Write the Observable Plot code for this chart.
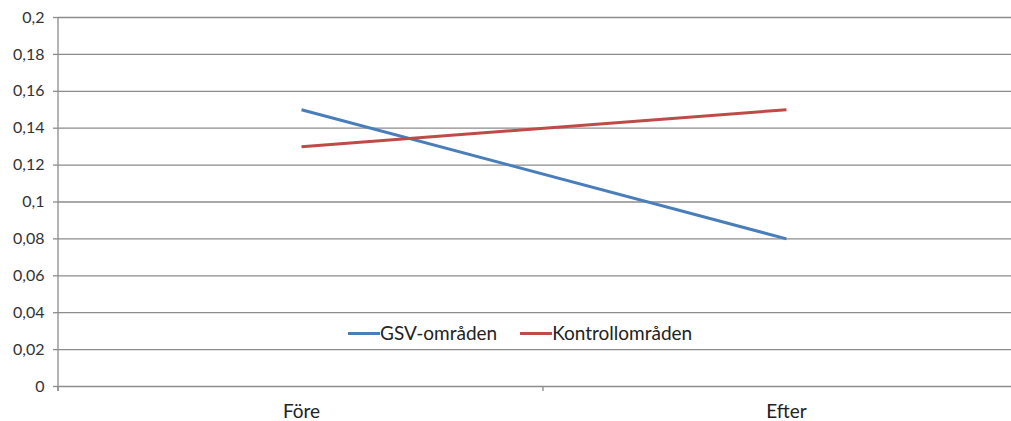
<!DOCTYPE html>
<html>
<head>
<meta charset="utf-8">
<script src="https://cdn.jsdelivr.net/npm/d3@7"></script>
<script src="https://cdn.jsdelivr.net/npm/@observablehq/plot@0.6"></script>
<style>
  html, body { margin: 0; padding: 0; background: #fff; overflow: hidden; }
  #wrap { position: relative; width: 1011px; height: 421px; overflow: hidden; font-family: Lato, "Open Sans", sans-serif; }
  #legend { position: absolute; top: 321px; left: 348px; display: flex; align-items: center; font-size: 19px; line-height: 24px; color: #222; white-space: nowrap; }
  #legend .sw { display: inline-block; width: 32px; height: 3px; }
  #legend .item { display: flex; align-items: center; margin-right: 23px; }
</style>
</head>
<body>
<div id="wrap"><div id="legend"></div></div>
<script>
const categories = ["Före", "Efter"];
const seriesNames = ["GSV-områden", "Kontrollområden"];
const gsvValues = [0.15, 0.08];
const kontrollValues = [0.13, 0.15];
const yTicks = [0, 0.02, 0.04, 0.06, 0.08, 0.1, 0.12, 0.14, 0.16, 0.18, 0.2];
const colors = ["#4a7ebb", "#be4b48"];

const data = [];
categories.forEach((c, i) => {
  data.push({cat: c, series: seriesNames[0], value: gsvValues[i]});
  data.push({cat: c, series: seriesNames[1], value: kontrollValues[i]});
});

const W = 1028, H = 421, ML = 58, MR = 0, MT = 17, MB = 35;
const axisColor = "#8c8c8c";

function frameMarks(index, scales, values, dims) {
  const g = d3.create("svg:g");
  const left = dims.marginLeft, right = dims.width - dims.marginRight;
  const bottom = dims.height - dims.marginBottom, top = dims.marginTop;
  g.append("line").attr("x1", left).attr("x2", left).attr("y1", top).attr("y2", bottom + 5)
    .attr("stroke", axisColor).attr("stroke-width", 1.3);
  const n = categories.length;
  const step = (right - left) / n;
  for (let i = 0; i <= n; i++) {
    const x = left + i * step;
    g.append("line").attr("x1", x).attr("x2", x).attr("y1", bottom).attr("y2", bottom + 5)
      .attr("stroke", axisColor).attr("stroke-width", 1.3);
  }
  return g.node();
}

const chart = Plot.plot({
  width: W, height: H,
  marginLeft: ML, marginRight: MR, marginTop: MT, marginBottom: MB,
  style: {fontFamily: "Lato, 'Open Sans', sans-serif", fontSize: "16px", color: "#333", background: "transparent", maxWidth: "none"},
  x: {type: "point", domain: categories, padding: 0.5, label: null},
  y: {domain: [0, 0.2], label: null},
  color: {domain: seriesNames, range: colors},
  marks: [
    Plot.gridY(yTicks, {stroke: axisColor, strokeOpacity: 1, strokeWidth: 1.3}),
    Plot.axisY(yTicks, {tickSize: 5, tickPadding: 9, stroke: axisColor, strokeOpacity: 1, strokeWidth: 1.3,
      tickFormat: d => String(d).replace(".", ","), fill: "#333", fontSize: 16, label: null}),
    Plot.axisX({tickSize: 0, tickPadding: 18, fill: "#222", fontSize: 19, label: null}),
    frameMarks,
    Plot.line(data, {x: "cat", y: "value", z: "series", stroke: "series", strokeWidth: 3, strokeLinecap: "butt"})
  ]
});

chart.style.maxWidth = "none";
chart.style.position = "absolute";
chart.style.left = "0";
chart.style.top = "0";
document.getElementById("wrap").prepend(chart);

const legend = document.getElementById("legend");
seriesNames.forEach((s, i) => {
  const item = document.createElement("span");
  item.className = "item";
  const sw = document.createElement("span");
  sw.className = "sw";
  sw.style.background = colors[i];
  const t = document.createElement("span");
  t.textContent = s;
  item.append(sw, t);
  legend.append(item);
});
</script>
</body>
</html>
